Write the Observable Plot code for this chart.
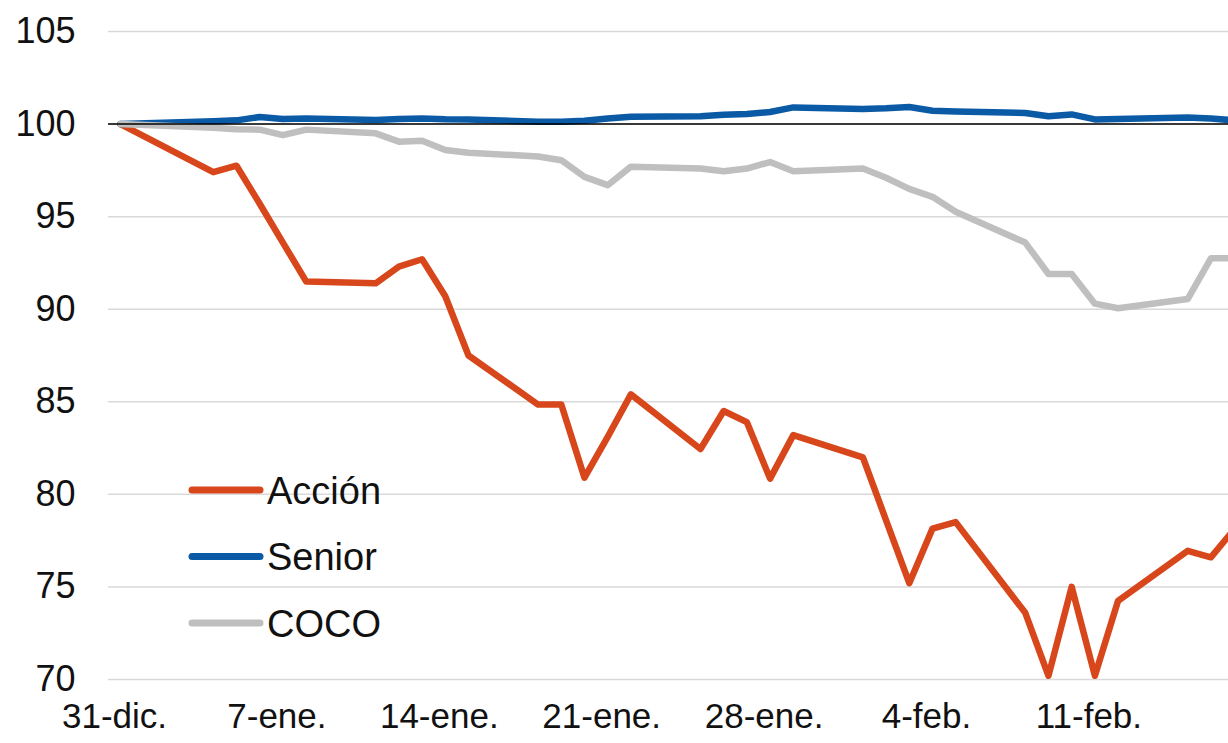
<!DOCTYPE html>
<html>
<head>
<meta charset="utf-8">
<script src="https://cdn.jsdelivr.net/npm/d3@7"></script>
<script src="https://cdn.jsdelivr.net/npm/@observablehq/plot@0.6"></script>
<style>
  html, body { margin: 0; padding: 0; background: #fff; overflow: hidden; }
  #chart { width: 1228px; height: 743px; }
</style>
</head>
<body>
<div id="chart"></div>
<script>
// ---- Data ----
const dates = [
  "2015-12-31",
  "2016-01-04","2016-01-05","2016-01-06","2016-01-07","2016-01-08",
  "2016-01-11","2016-01-12","2016-01-13","2016-01-14","2016-01-15",
  "2016-01-18","2016-01-19","2016-01-20","2016-01-21","2016-01-22",
  "2016-01-25","2016-01-26","2016-01-27","2016-01-28","2016-01-29",
  "2016-02-01","2016-02-02","2016-02-03","2016-02-04","2016-02-05",
  "2016-02-08","2016-02-09","2016-02-10","2016-02-11","2016-02-12",
  "2016-02-15","2016-02-16","2016-02-17"
];
const accion = [
  100,
  97.4, 97.75, 95.7, 93.6, 91.5,
  91.4, 92.3, 92.7, 90.7, 87.5,
  84.85, 84.85, 80.9, 83.1, 85.4,
  82.45, 84.5, 83.9, 80.85, 83.2,
  82.0, 78.6, 75.2, 78.15, 78.5,
  73.6, 70.2, 75.0, 70.2, 74.25,
  76.95, 76.6, 78.1
];
const senior = [
  100,
  100.15, 100.2, 100.38, 100.28, 100.3,
  100.22, 100.28, 100.3, 100.26, 100.25,
  100.13, 100.13, 100.18, 100.3, 100.4,
  100.42, 100.5, 100.55, 100.65, 100.9,
  100.82, 100.85, 100.92, 100.72, 100.68,
  100.6, 100.42, 100.52, 100.25, 100.28,
  100.35, 100.3, 100.2
];
const coco = [
  100,
  99.8, 99.72, 99.7, 99.4, 99.7,
  99.5, 99.05, 99.1, 98.6, 98.45,
  98.25, 98.05, 97.15, 96.7, 97.7,
  97.6, 97.45, 97.6, 97.95, 97.45,
  97.6, 97.1, 96.5, 96.07, 95.26,
  93.6, 91.9, 91.9, 90.3, 90.05,
  90.55, 92.75, 92.75
];
const seriesNames = ["Acción", "Senior", "COCO"];
const seriesColors = ["#d8471b", "#0b5aa6", "#bfbfbf"];
const yTicks = [70, 75, 80, 85, 90, 95, 100, 105];
const xTickDates = ["2015-12-31","2016-01-07","2016-01-14","2016-01-21","2016-01-28","2016-02-04","2016-02-11"];
const monthAbbr = ["ene.","feb.","mar.","abr.","may.","jun.","jul.","ago.","sep.","oct.","nov.","dic."];

// ---- Build table ----
const parse = d3.timeParse("%Y-%m-%d");
const seriesValues = [accion, senior, coco];
const rows = [];
seriesNames.forEach((name, i) => {
  dates.forEach((d, j) => rows.push({ series: name, date: parse(d), value: seriesValues[i][j] }));
});
const tickDates = xTickDates.map(parse);
const fmt = d => `${d.getDate()}-${monthAbbr[d.getMonth()]}`;

// x domain: half a day before the first date, up to late on 16-feb (chart is cut at the right)
const start = parse(dates[0]);
const x0 = d3.timeMinute.offset(start, -745);
const x1 = d3.timeMinute.offset(start, Math.round(47.76 * 1440));

const FONT = "'Liberation Sans', Arial, sans-serif";

// Legend drawn as a custom render mark inside the SVG
function legendMark(index, scales, values, dimensions) {
  const g = d3.create("svg:g");
  const left = dimensions.marginLeft;
  const top = dimensions.marginTop;
  seriesNames.forEach((name, i) => {
    const cy = top + 459 + i * 66.5;
    g.append("line")
      .attr("x1", left + 84).attr("x2", left + 152)
      .attr("y1", cy).attr("y2", cy)
      .attr("stroke", seriesColors[i]).attr("stroke-width", 7)
      .attr("stroke-linecap", "round");
    g.append("text")
      .attr("x", left + 159).attr("y", cy)
      .attr("dy", "0.36em")
      .attr("text-anchor", "start")
      .attr("fill", "#111")
      .attr("font-size", 38)
      .attr("font-family", FONT)
      .text(name);
  });
  return g.node();
}

const chart = Plot.plot({
  width: 1228,
  height: 743,
  marginLeft: 108,
  marginRight: 0,
  marginTop: 31,
  marginBottom: 64,
  style: { fontFamily: FONT, fontSize: "35px", color: "#111", background: "#fff", overflow: "hidden" },
  x: { type: "time", domain: [x0, x1] },
  y: { domain: [70, 105] },
  color: { domain: seriesNames, range: seriesColors },
  marks: [
    Plot.gridY(yTicks, { stroke: "#d9d9d9", strokeOpacity: 1, strokeWidth: 1.5 }),
    Plot.axisY(yTicks, { tickSize: 0, tickPadding: 33, label: null, fontSize: 36 }),
    Plot.axisX(tickDates, { tickSize: 0, tickPadding: 24, tickFormat: fmt, label: null, dx: -6, fontSize: 35 }),
    Plot.line(rows, { x: "date", y: "value", z: "series", stroke: "series", strokeWidth: 6.5, clip: true }),
    Plot.ruleY([100], { stroke: "#000", strokeWidth: 1.5 }),
    legendMark
  ]
});
document.getElementById("chart").append(chart);
</script>
</body>
</html>
